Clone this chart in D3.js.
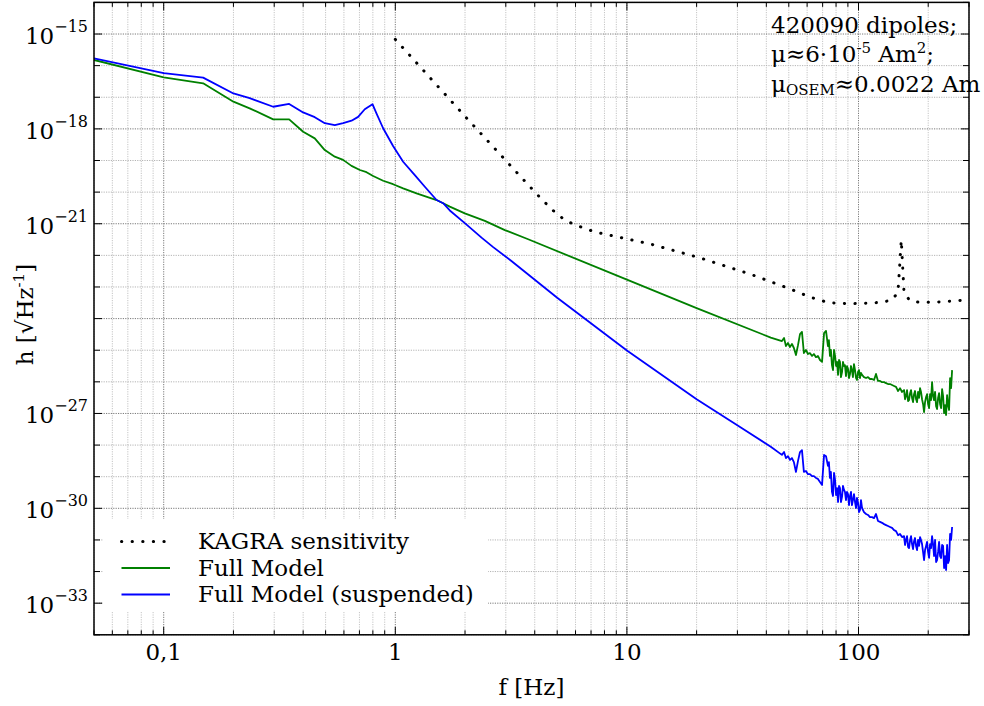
<!DOCTYPE html>
<html>
<head>
<meta charset="utf-8">
<script src="https://cdn.jsdelivr.net/npm/d3@7"></script>
<style>
body { margin: 0; background: #fff; }
text { font-family: "DejaVu Serif", serif; fill: #000; }
</style>
</head>
<body>
<div class="chart"></div>
<script>
var w = 984;
var h = 706;
var plot = {left: 94, right: 969, top: 2.4, bottom: 634.8};

// KAGRA sensitivity: frequency [Hz] and h as power of ten
var kagraFreq = [1, 2.01, 4.09, 4.73, 5.12, 5.58, 6.16, 6.80, 7.49, 10, 12.6, 20.7, 34.0, 50.6, 61.7, 74.6,
    91.9, 113.2, 125.5, 139.1, 148.1, 153.0, 157.2, 166.4, 184.4, 227.2, 280, 300];
var kagraExp = [-15.17, -17.62, -20.07, -20.54, -20.76, -20.94, -21.07, -21.19, -21.28, -21.48, -21.64, -22.08,
    -22.59, -23.06, -23.32, -23.50, -23.53, -23.51, -23.48, -23.42, -23.17, -21.52, -23.17, -23.43, -23.49,
    -23.47, -23.42, -23.40];

// Full Model below 45 Hz
var fullFreq = [0.05, 0.1, 0.148, 0.2, 0.235, 0.297, 0.348, 0.4, 0.449, 0.496, 0.548, 0.595, 0.647, 0.703,
    0.751, 0.802, 0.886, 0.978, 1.081, 1.235, 1.507, 1.609, 1.719, 1.996, 2.436, 2.972, 3.747, 10, 20, 41.8];
var fullExp = [-15.82, -16.37, -16.56, -17.14, -17.35, -17.70, -17.70, -18.09, -18.30, -18.67, -18.88, -18.98,
    -19.17, -19.30, -19.37, -19.49, -19.64, -19.75, -19.88, -20.04, -20.25, -20.35, -20.46, -20.67, -20.91,
    -21.20, -21.49, -22.77, -23.67, -24.60];

// Full Model (suspended) below 45 Hz
var suspFreq = [0.05, 0.1, 0.148, 0.2, 0.235, 0.297, 0.348, 0.4, 0.449, 0.496, 0.548, 0.595, 0.647, 0.691,
    0.738, 0.797, 0.829, 0.886, 0.978, 1.081, 1.214, 1.341, 1.507, 1.609, 1.719, 1.996, 2.357, 2.646, 3.162,
    5, 10, 20, 30.8, 41.8];
var suspExp = [-15.77, -16.24, -16.38, -16.88, -17.03, -17.30, -17.21, -17.48, -17.63, -17.82, -17.88, -17.82,
    -17.74, -17.62, -17.38, -17.22, -17.51, -17.98, -18.54, -19.04, -19.46, -19.83, -20.25, -20.35, -20.58,
    -20.98, -21.44, -21.74, -22.17, -23.34, -25.01, -26.55, -27.43, -28.05];

// noisy high frequency part, same frequency grid for both models
var noiseFreq = [46.7, 47.7, 48.6, 49.6, 50.6, 51.6, 52.6, 53.7, 54.8, 55.9, 57.0, 58.1, 59.3, 60.5, 61.7,
    63.0, 64.2, 65.5, 66.8, 68.2, 69.6, 71.0, 72.4, 73.8,
    74.5, 75.3, 76.0, 76.8, 77.6, 78.4, 79.2, 80.0, 80.8, 81.6, 82.4, 83.2, 84.0, 84.9, 85.7, 86.6, 87.4,
    88.3, 89.2, 90.1, 91.0, 91.9, 92.8, 93.7, 94.6, 95.6, 96.6, 97.6, 98.5, 99.5, 100.5, 101.5, 102.5, 103.6,
    105.6, 107.8, 109.9, 112.1, 114.4, 116.7, 119.0, 121.4, 123.9, 126.4, 128.9, 131.5, 134.1, 136.8, 139.6,
    142.4, 145.2, 148.2, 151.1, 154.2,
    157.3, 158.8, 160.4, 162.0, 163.7, 165.3, 167.0, 168.6, 170.3, 172.0, 173.7, 175.4, 177.2, 179.0, 180.8,
    182.6, 184.4, 186.2, 188.1, 190.0, 191.9, 193.8, 195.8, 197.7, 199.7, 201.7, 203.7, 205.7, 207.8, 209.9,
    212.0, 214.1, 216.3, 218.4, 220.6, 222.8, 225.0, 227.3, 229.6, 231.9, 234.2, 236.5, 238.9, 241.3, 243.7,
    246.1, 248.6, 251.1, 253.6];
var fullNoiseExp = [-24.71, -24.61, -24.87, -24.77, -24.90, -24.80, -24.93, -25.15, -24.84, -24.49,
    -24.42, -25.09, -24.99, -25.12, -25.09, -25.18, -25.12, -25.22, -25.18, -25.31, -25.37, -24.46, -24.39, -24.87,
    -24.68, -25.18, -24.99, -25.47, -25.63, -24.99, -25.18, -25.50, -25.37, -25.78, -25.31, -25.37, -25.85,
    -25.69, -25.37, -25.50, -25.47, -25.82, -25.50, -25.59, -25.88, -25.75, -25.50, -25.63, -25.85, -25.44,
    -25.63, -25.88, -25.94, -25.69, -25.63, -25.88, -25.72, -25.78,
    -25.85, -25.88, -25.85, -25.91, -25.91, -25.94, -25.75, -25.97, -25.97, -26.01, -26.01, -26.04, -26.07,
    -26.07, -26.10, -26.13, -26.16, -26.29, -26.20, -26.32,
    -26.26, -26.55, -26.45, -26.26, -26.61, -26.58, -26.36, -26.26, -26.51, -26.64, -26.39, -26.29, -26.55,
    -26.64, -26.32, -26.51, -26.20, -26.32, -26.55, -26.70, -26.96, -26.64, -26.48, -26.39, -26.70, -26.83,
    -26.39, -26.58, -26.01, -26.45, -26.58, -26.32, -26.77, -26.86, -26.51, -26.36, -26.70, -26.83, -26.23,
    -26.45, -26.99, -26.74, -27.05, -26.42, -26.74, -26.89, -25.88, -26.20, -25.63];
var suspNoiseExp = [-28.31, -28.22, -28.41, -28.35, -28.47, -28.41, -28.54, -28.85, -28.50, -28.22,
    -28.16, -28.85, -28.82, -28.92, -28.92, -28.98, -28.98, -29.04, -29.07, -29.17, -29.26, -28.31, -28.35, -28.66,
    -28.54, -29.04, -28.85, -29.48, -29.61, -28.88, -29.10, -29.58, -29.36, -29.80, -29.29, -29.36, -29.80,
    -29.64, -29.29, -29.42, -29.48, -29.74, -29.48, -29.55, -29.90, -29.61, -29.48, -29.90, -29.74, -29.55,
    -29.80, -29.99, -29.67, -29.83, -30.12, -30.05, -29.74, -29.99,
    -30.12, -30.18, -30.21, -30.28, -30.28, -30.31, -30.18, -30.40, -30.43, -30.46, -30.50, -30.53, -30.56,
    -30.59, -30.62, -30.69, -30.72, -30.85, -30.81, -30.91,
    -30.88, -31.16, -31.00, -30.88, -31.22, -31.26, -31.00, -30.88, -31.13, -31.29, -31.04, -30.94, -31.19,
    -31.32, -31.00, -31.19, -30.91, -31.00, -31.13, -31.38, -31.64, -31.32, -31.19, -31.06, -31.38, -31.57,
    -31.13, -31.26, -30.88, -31.13, -31.51, -31.00, -31.70, -31.64, -31.38, -31.06, -31.51, -31.57, -31.16,
    -31.19, -31.89, -31.51, -31.95, -31.16, -31.73, -31.64, -30.81, -31.00, -30.59];

var xMajor = [0.1, 1, 10, 100];
var xTickLabels = ["0,1", "1", "10", "100"];
var yMajorExp = [-33, -30, -27, -24, -21, -18, -15];
var yLabelExp = [-33, -30, -27, -21, -18, -15];
var seriesNames = ["KAGRA sensitivity", "Full Model", "Full Model (suspended)"];

var xScale = d3.scaleLog()
    .domain([0.05, 300])
    .range([plot.left, plot.right]);

var yScale = d3.scaleLog()
    .domain([1e-34, 1e-14])
    .range([plot.bottom, plot.top]);

function isDecade(d) {
    var l = Math.log10(d);
    return Math.abs(l - Math.round(l)) < 1e-6;
}
var xMinor = xScale.ticks().filter(function(d) { return !isDecade(d); });
var yMinorExp = d3.range(-34, -13).filter(function(e) { return yMajorExp.indexOf(e) < 0; });

function toPoints(freq, exps) {
    return freq.map(function(f, i) { return [f, Math.pow(10, exps[i])]; });
}
var kagra = toPoints(kagraFreq, kagraExp);
var full = toPoints(fullFreq.concat(noiseFreq), fullExp.concat(fullNoiseExp));
var susp = toPoints(suspFreq.concat(noiseFreq), suspExp.concat(suspNoiseExp));

var svg = d3.select(".chart")
    .append("svg")
    .attr("width", w)
    .attr("height", h);

svg.append("rect").attr("width", w).attr("height", h).attr("fill", "#fff");

// grid
var grid = svg.append("g");
function vGrid(vals, color) {
    grid.append("g").selectAll("line")
        .data(vals)
        .enter()
        .append("line")
        .attr("x1", function(d) { return xScale(d); })
        .attr("x2", function(d) { return xScale(d); })
        .attr("y1", plot.top)
        .attr("y2", plot.bottom)
        .attr("stroke", color)
        .attr("stroke-dasharray", "1.2,1.2");
}
function hGrid(exps, color) {
    grid.append("g").selectAll("line")
        .data(exps)
        .enter()
        .append("line")
        .attr("x1", plot.left)
        .attr("x2", plot.right)
        .attr("y1", function(e) { return yScale(Math.pow(10, e)); })
        .attr("y2", function(e) { return yScale(Math.pow(10, e)); })
        .attr("stroke", color)
        .attr("stroke-dasharray", "1.2,1.2");
}
vGrid(xMinor, "#c4c4c4");
hGrid(yMinorExp, "#b4b4b4");
vGrid(xMajor, "#7a7a7a");
hGrid(yMajorExp, "#7a7a7a");

// curves
svg.append("clipPath").attr("id", "clip")
    .append("rect")
    .attr("x", plot.left).attr("y", plot.top)
    .attr("width", plot.right - plot.left).attr("height", plot.bottom - plot.top);

var line = d3.line()
    .x(function(d) { return xScale(d[0]); })
    .y(function(d) { return yScale(d[1]); });

var curves = svg.append("g").attr("clip-path", "url(#clip)");
curves.append("path")
    .attr("d", line(kagra))
    .attr("fill", "none")
    .attr("stroke", "#000")
    .attr("stroke-width", 3)
    .attr("stroke-linecap", "round")
    .attr("stroke-dasharray", "0.3,10.3");
curves.append("path")
    .attr("d", line(full))
    .attr("fill", "none")
    .attr("stroke", "#008000")
    .attr("stroke-width", 1.8)
    .attr("stroke-linejoin", "round");
curves.append("path")
    .attr("d", line(susp))
    .attr("fill", "none")
    .attr("stroke", "#0000ff")
    .attr("stroke-width", 1.8)
    .attr("stroke-linejoin", "round");

// ticks, pointing inwards on all four sides
var ticks = svg.append("g").attr("stroke", "#000").attr("stroke-width", 1);
function xTicks(vals, len) {
    vals.forEach(function(d) {
        var x = xScale(d);
        ticks.append("line").attr("x1", x).attr("x2", x).attr("y1", plot.bottom).attr("y2", plot.bottom - len);
        ticks.append("line").attr("x1", x).attr("x2", x).attr("y1", plot.top).attr("y2", plot.top + len);
    });
}
function yTicks(exps, len) {
    exps.forEach(function(e) {
        var y = yScale(Math.pow(10, e));
        ticks.append("line").attr("y1", y).attr("y2", y).attr("x1", plot.left).attr("x2", plot.left + len);
        ticks.append("line").attr("y1", y).attr("y2", y).attr("x1", plot.right).attr("x2", plot.right - len);
    });
}
xTicks(xMinor, 4.5);
xTicks(xMajor, 8);
yTicks(yMinorExp, 6);
yTicks(yMajorExp, 8);

svg.append("rect")
    .attr("x", plot.left).attr("y", plot.top)
    .attr("width", plot.right - plot.left).attr("height", plot.bottom - plot.top)
    .attr("fill", "none")
    .attr("stroke", "#000")
    .attr("stroke-width", 1.5);

// tick labels
svg.append("g").selectAll("text")
    .data(xMajor)
    .enter()
    .append("text")
    .attr("x", function(d) { return xScale(d); })
    .attr("y", 660)
    .attr("text-anchor", "middle")
    .attr("font-size", 23)
    .text(function(d, i) { return xTickLabels[i]; });

svg.append("g").selectAll("text")
    .data(yLabelExp)
    .enter()
    .append("text")
    .attr("x", plot.left - 6)
    .attr("y", function(e) { return yScale(Math.pow(10, e)) + 10; })
    .attr("text-anchor", "end")
    .attr("font-size", 23)
    .each(function(e) {
        var t = d3.select(this);
        t.append("tspan").text("10");
        t.append("tspan").attr("dy", -12).attr("font-size", 16).text("\u2212" + Math.abs(e));
    });

// axis labels
svg.append("text")
    .attr("x", (plot.left + plot.right) / 2)
    .attr("y", 695)
    .attr("text-anchor", "middle")
    .attr("font-size", 23)
    .text("f [Hz]");

var ylab = svg.append("text")
    .attr("transform", "translate(33," + ((plot.top + plot.bottom) / 2 - 4) + ") rotate(-90)")
    .attr("text-anchor", "middle")
    .attr("font-size", 23);
ylab.append("tspan").text("h [\u221AHz");
ylab.append("tspan").attr("dy", -9).attr("font-size", 15).text("-1");
ylab.append("tspan").attr("dy", 9).text("]");

// legend
var legend = svg.append("g");
legend.append("rect")
    .attr("x", 103).attr("y", 519)
    .attr("width", 385).attr("height", 93)
    .attr("fill", "#fff");
var legendStyles = [
    {color: "#000", width: 3, dash: "0.3,10.3", cap: "round"},
    {color: "#008000", width: 1.8, dash: null, cap: "butt"},
    {color: "#0000ff", width: 1.8, dash: null, cap: "butt"}
];
var items = legend.selectAll("g.item")
    .data(seriesNames)
    .enter()
    .append("g")
    .attr("transform", function(d, i) { return "translate(0," + (541.5 + i * 26.5) + ")"; });
items.append("line")
    .attr("x1", 121.5).attr("x2", 170)
    .attr("stroke", function(d, i) { return legendStyles[i].color; })
    .attr("stroke-width", function(d, i) { return legendStyles[i].width; })
    .attr("stroke-dasharray", function(d, i) { return legendStyles[i].dash; })
    .attr("stroke-linecap", function(d, i) { return legendStyles[i].cap; });
items.append("text")
    .attr("x", 198)
    .attr("y", 7.5)
    .attr("font-size", 23)
    .text(function(d) { return d; });

// annotation in the top right corner
var note = svg.append("g").attr("font-size", 23);
note.append("text").attr("x", 771).attr("y", 33).text("420090 dipoles;");
var n2 = note.append("text").attr("x", 771).attr("y", 62);
n2.append("tspan").text("\u03BC\u22486\u00B710");
n2.append("tspan").attr("dy", -9).attr("font-size", 15).text("-5");
n2.append("tspan").attr("dy", 9).text(" Am");
n2.append("tspan").attr("dy", -9).attr("font-size", 15).text("2");
n2.append("tspan").attr("dy", 9).text(";");
var n3 = note.append("text").attr("x", 771).attr("y", 92);
n3.append("tspan").text("\u03BC");
n3.append("tspan").attr("dy", 3).attr("font-size", 15).text("OSEM");
n3.append("tspan").attr("dy", -3).text("\u22480.0022 Am");
</script>
</body>
</html>
